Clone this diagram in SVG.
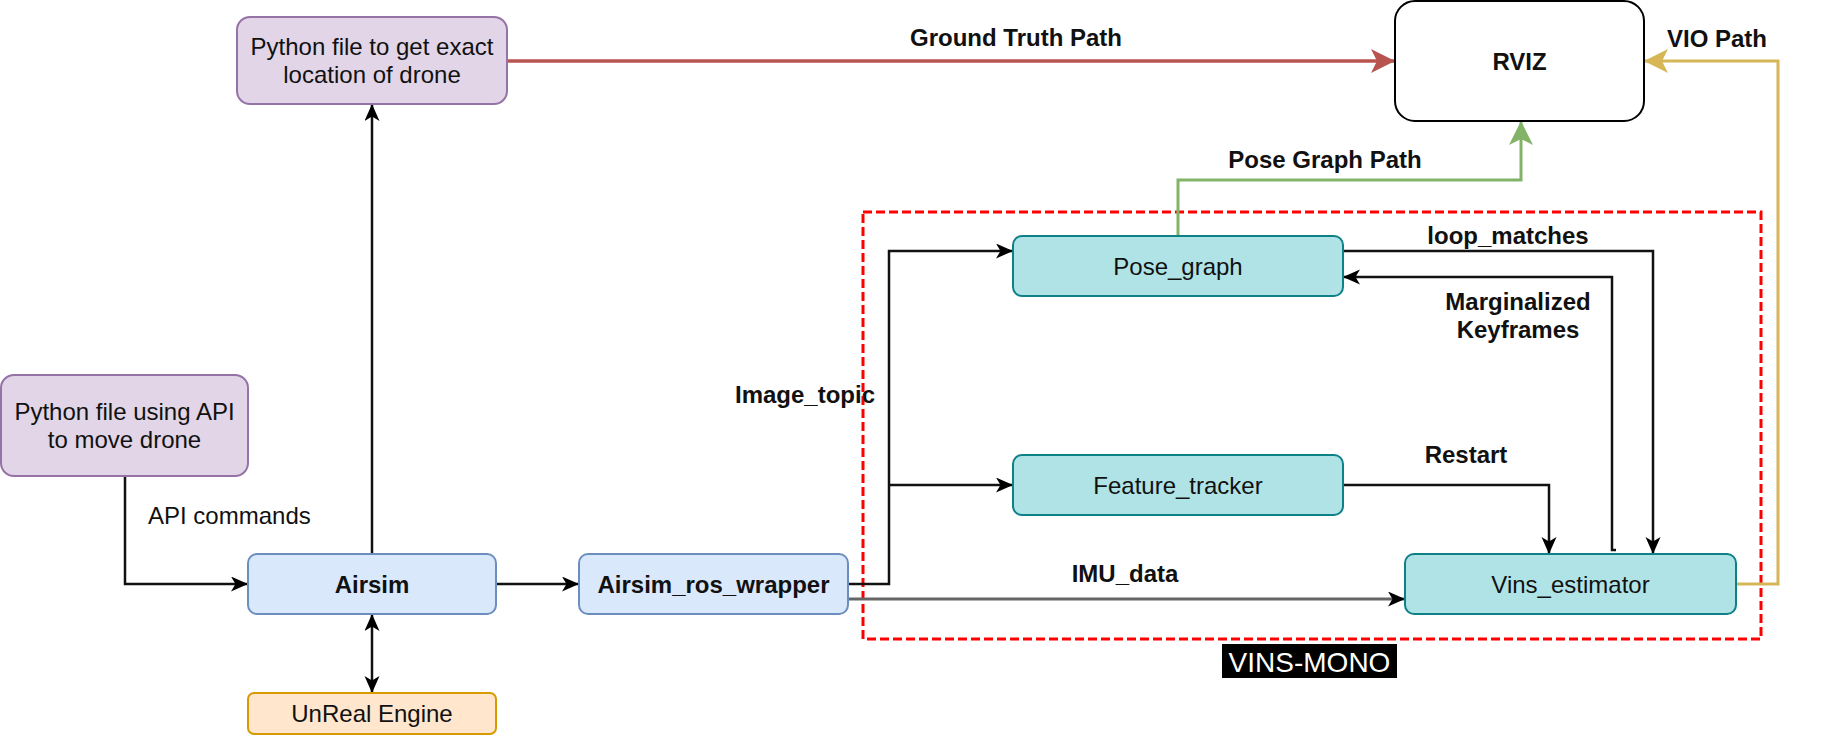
<svg xmlns="http://www.w3.org/2000/svg" width="1834" height="735" viewBox="0 0 1834 735">
<style>
text{font-family:"Liberation Sans",Arial,sans-serif;font-size:24px;fill:#111}
.c{text-anchor:middle}
.b{font-weight:bold}
.node{stroke-width:2}
.purple{fill:#e1d5e7;stroke:#9673a6}
.blue{fill:#dae8fc;stroke:#6c8ebf}
.orange{fill:#ffe6cc;stroke:#d79b00}
.teal{fill:#b0e3e6;stroke:#0e8088}
.white{fill:#fff;stroke:#000}
.ln{fill:none;stroke:#111;stroke-width:2.5}
</style>
<defs>
<marker id="ab" markerUnits="userSpaceOnUse" markerWidth="18" markerHeight="16" refX="17" refY="7.5" orient="auto-start-reverse" viewBox="0 0 18 16">
<path d="M0,0 L17,7.5 L0,15 L4.5,7.5 Z" fill="#000"/>
</marker>
<marker id="ar" markerUnits="userSpaceOnUse" markerWidth="25" markerHeight="25" refX="24" refY="12" orient="auto" viewBox="0 0 25 25">
<path d="M0,0 L24,12 L0,24 L6,12 Z" fill="#b85450"/>
</marker>
<marker id="ag" markerUnits="userSpaceOnUse" markerWidth="25" markerHeight="25" refX="24" refY="12" orient="auto" viewBox="0 0 25 25">
<path d="M0,0 L24,12 L0,24 L6,12 Z" fill="#82b366"/>
</marker>
<marker id="ay" markerUnits="userSpaceOnUse" markerWidth="25" markerHeight="25" refX="24" refY="12" orient="auto" viewBox="0 0 25 25">
<path d="M0,0 L24,12 L0,24 L6,12 Z" fill="#d6b656"/>
</marker>
</defs>
<rect width="1834" height="735" fill="#fff"/>

<g id="vins-mono-group">
<rect x="863" y="212" width="898" height="427" fill="none" stroke="#ff0000" stroke-width="3" stroke-dasharray="9 4"/>
<rect x="1222" y="644" width="175" height="34" fill="#000"/>
<text x="1309.5" y="672" class="c" style="fill:#fff;font-size:28px">VINS-MONO</text>
</g>

<g id="connectors">
<path class="ln" d="M125,476 L125,584 L248,584" marker-end="url(#ab)"/>
<path class="ln" d="M372,554 L372,104" marker-end="url(#ab)"/>
<path class="ln" d="M372,614 L372,693" marker-start="url(#ab)" marker-end="url(#ab)"/>
<path class="ln" d="M496,584 L579,584" marker-end="url(#ab)"/>
<path class="ln" d="M848,584 L889,584 L889,251 L1013,251" marker-end="url(#ab)"/>
<path class="ln" d="M889,485 L1013,485" marker-end="url(#ab)"/>
<path class="ln" d="M848,599 L1405,599" style="stroke:#666;stroke-width:3" marker-end="url(#ab)"/>
<path class="ln" d="M1343,485 L1549,485 L1549,554" marker-end="url(#ab)"/>
<path class="ln" d="M1343,251 L1653,251 L1653,554" marker-end="url(#ab)"/>
<path class="ln" d="M1616,550 L1612,550 L1612,277 L1343,277" marker-end="url(#ab)"/>
<path class="ln" d="M507,61 L1395,61" style="stroke:#b85450;stroke-width:3.5" marker-end="url(#ar)"/>
<path class="ln" d="M1178,236 L1178,180 L1521,180 L1521,121" style="stroke:#82b366;stroke-width:3" marker-end="url(#ag)"/>
<path class="ln" d="M1736,584 L1778,584 L1778,61 L1644,61" style="stroke:#d6b656;stroke-width:3" marker-end="url(#ay)"/>
<text x="1016" y="46" class="c b">Ground Truth Path</text>
<text x="1717" y="47" class="c b">VIO Path</text>
<text x="1325" y="168" class="c b">Pose Graph Path</text>
<text x="1508" y="244" class="c b">loop_matches</text>
<text x="1518" y="310" class="c b">Marginalized</text>
<text x="1518" y="338" class="c b">Keyframes</text>
<text x="805" y="403" class="c b">Image_topic</text>
<text x="1466" y="463" class="c b">Restart</text>
<text x="1125" y="582" class="c b">IMU_data</text>
<text x="148" y="524">API commands</text>
</g>

<g id="python-location">
<rect x="237" y="17" width="270" height="87" rx="13" class="node purple"/>
<text x="372" y="55" class="c">Python file to get exact</text>
<text x="372" y="83" class="c">location of drone</text>
</g>
<g id="python-api">
<rect x="1" y="375" width="247" height="101" rx="13" class="node purple"/>
<text x="124.5" y="420" class="c">Python file using API</text>
<text x="124.5" y="448" class="c">to move drone</text>
</g>
<g id="rviz">
<rect x="1395" y="1" width="249" height="120" rx="20" class="node white"/>
<text x="1519.5" y="69.5" class="c b">RVIZ</text>
</g>
<g id="airsim">
<rect x="248" y="554" width="248" height="60" rx="9" class="node blue"/>
<text x="372" y="592.5" class="c b">Airsim</text>
</g>
<g id="unreal">
<rect x="248" y="693" width="248" height="41" rx="6" class="node orange"/>
<text x="372" y="722" class="c">UnReal Engine</text>
</g>
<g id="ros-wrapper">
<rect x="579" y="554" width="269" height="60" rx="9" class="node blue"/>
<text x="713.5" y="592.5" class="c b">Airsim_ros_wrapper</text>
</g>
<g id="pose-graph">
<rect x="1013" y="236" width="330" height="60" rx="9" class="node teal"/>
<text x="1178" y="274.5" class="c">Pose_graph</text>
</g>
<g id="feature-tracker">
<rect x="1013" y="455" width="330" height="60" rx="9" class="node teal"/>
<text x="1178" y="493.5" class="c">Feature_tracker</text>
</g>
<g id="vins-estimator">
<rect x="1405" y="554" width="331" height="60" rx="9" class="node teal"/>
<text x="1570.5" y="592.5" class="c">Vins_estimator</text>
</g>
</svg>
